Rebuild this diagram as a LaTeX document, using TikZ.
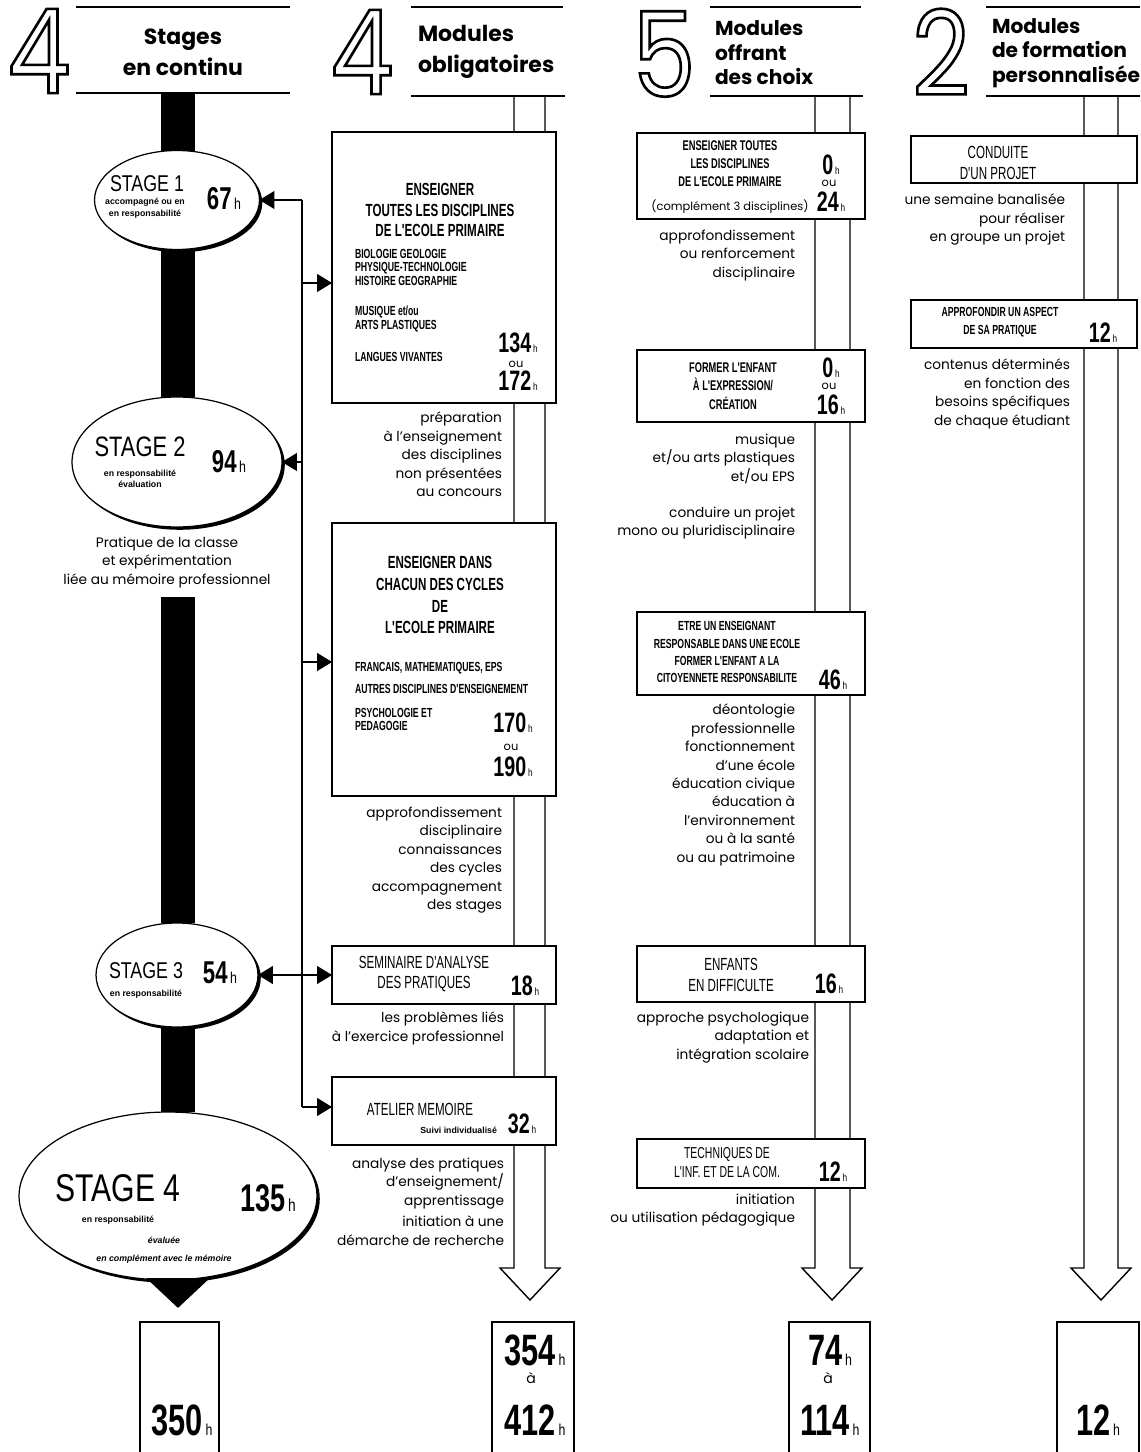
\documentclass[tikz,border=0pt]{standalone}
\usepackage{fontspec}
\setmainfont{Poppins}
\newfontfamily\digitfont[FakeStretch=0.85]{Poppins}
\newfontfamily\stagefont[FakeStretch=0.78]{Liberation Sans}
\newfontfamily\capfont[FakeStretch=0.66]{Liberation Sans}
\newfontfamily\numfont[FakeStretch=0.7]{Liberation Sans}
\newfontfamily\tinyfont{Liberation Sans}
\usetikzlibrary{shapes.geometric,arrows.meta}
\newcommand{\hh}[1][6]{{\stagefont\mdseries\fontsize{#1}{#1}\selectfont\,h}}
\newcommand{\outlined}[1]{\special{pdf:literal direct 1 Tr 1.5 w}#1\special{pdf:literal direct 0 Tr}}
\begin{document}
\begin{tikzpicture}[x=0.02cm,y=-0.02cm,
    every node/.style={inner sep=0pt,outer sep=0pt},
    digitnum/.style={font=\digitfont\fontsize{67}{67}\selectfont},
    headline/.style={line width=1pt},
    headtext/.style={font=\bfseries\fontsize{12.5}{17.6}\selectfont},
    headsmall/.style={font=\bfseries\fontsize{11.5}{13.9}\selectfont,align=left,anchor=west},
    colarrow/.style={line width=0.8pt,line join=miter},
    stagebar/.style={line width=0.68cm},
    stagering/.style={ellipse,draw,fill=white,line width=0.7pt,
      preaction={fill=black,transform canvas={xshift=1.6pt,yshift=-1.6pt}}},
    stagename/.style={font=\stagefont\fontsize{13}{13}\selectfont},
    stagenote/.style={font=\tinyfont\bfseries\fontsize{5}{6.5}\selectfont,align=center},
    hours/.style={font=\numfont\bfseries\fontsize{16}{16}\selectfont},
    orword/.style={font=\fontsize{6.5}{6.5}\selectfont},
    modbox/.style={draw,fill=white,line width=0.8pt},
    modtitle/.style={font=\capfont\fontsize{10}{11.5}\selectfont,align=center},
    modlist/.style={font=\capfont\bfseries\fontsize{7.5}{7.7}\selectfont,align=left,anchor=north west},
    note/.style={font=\fontsize{7.8}{10.5}\selectfont,align=right,anchor=north east},
    link/.style={line width=0.7pt,-{Triangle[length=0.3cm,width=0.36cm]}},
  ]
    \useasboundingbox (0,0) rectangle (1140,1452);%

    % headers
    \node[digitnum] (n1) at (39,51) {\outlined{4}};%
    \node[digitnum] (n2) at (362,52) {\outlined{4}};%
    \node[digitnum] (n3) at (664,54) {\outlined{5}};%
    \node[digitnum] (n4) at (941,52) {\outlined{2}};%
    \draw[headline] (76,7) -- (290,7);%
    \draw[headline] (76,93) -- (290,93);%
    \draw[headline] (411,7) -- (563,7);%
    \draw[headline] (411,96) -- (565,96);%
    \draw[headline] (710,7) -- (861,7);%
    \draw[headline] (710,96) -- (863,96);%
    \draw[headline] (986,7) -- (1140,7);%
    \draw[headline] (986,96) -- (1140,96);%
    \node[headtext,align=center] (h1) at (183,52) {Stages\\en continu};%
    \node[headtext,align=left,anchor=west] (h2) at (418,52) {Modules\\obligatoires};%
    \node[headsmall] (h3) at (715,53) {Modules\\offrant\\des choix};%
    \node[headsmall] (h4) at (992,53) {Modules\\de formation\\personnalisée};%

    % column arrows
    \draw[colarrow] (514,96) -- (514,1268) -- (500,1268) -- (530,1300) -- (560,1268) -- (545,1268) -- (545,96);%
    \draw[colarrow] (815,96) -- (815,1268) -- (802,1268) -- (832,1300) -- (862,1268) -- (850,1268) -- (850,96);%
    \draw[colarrow] (1084,96) -- (1084,1268) -- (1071,1268) -- (1101,1300) -- (1131,1268) -- (1118,1268) -- (1118,96);%

    % stages
    \node[stagering,minimum width=3.3cm,minimum height=1.98cm] (s1) at (177,200) {};%
    \node[stagering,minimum width=4.2cm,minimum height=2.6cm] (s2) at (177,462) {};%
    \node[stagering,minimum width=3.24cm,minimum height=2.08cm] (s3) at (177,975) {};%
    \node[stagering,minimum width=5.96cm,minimum height=3.36cm] (s4) at (168,1196) {};%
    \coordinate (bartop) at (178,93);%
    \coordinate (barmid) at (178,597);%
    \coordinate (bartip) at (178,1308);%
    \draw[stagebar] (bartop) -- (bartop |- s1.north);%
    \draw[stagebar] (s1.south -| bartop) -- (bartop |- s2.north);%
    \draw[stagebar] (barmid) -- (barmid |- s3.north);%
    \draw[stagebar] (s3.south -| bartop) -- (bartop |- s4.north);%
    \draw[stagebar,-{Triangle[length=0.6cm,width=1.24cm]}] (s4.south -| bartop) -- (bartip);%

    \node[stagename] (s1n) at (147,184) {STAGE 1};%
    \node[stagenote] (s1t) at (145,208) {accompagné ou en\\en responsabilité};%
    \node[hours,font=\numfont\bfseries\fontsize{18}{18}\selectfont] (s1h) at (224,199) {67\hh[9]};%
    \node[stagename,font=\stagefont\fontsize{16}{16}\selectfont] (s2n) at (140,447) {STAGE 2};%
    \node[stagenote] (s2t) at (140,479) {en responsabilité\\évaluation};%
    \node[hours,font=\numfont\bfseries\fontsize{18}{18}\selectfont] (s2h) at (229,462) {94\hh[9]};%
    \node[note,align=center,anchor=north] (s2x) at (167,537) {Pratique de la classe\\et expérimentation\\liée au mémoire professionnel};%
    \node[stagename] (s3n) at (146,971) {STAGE 3};%
    \node[stagenote] (s3t) at (146,994) {en responsabilité};%
    \node[hours,font=\numfont\bfseries\fontsize{18}{18}\selectfont] (s3h) at (220,973) {54\hh[9]};%
    \node[stagename,font=\stagefont\fontsize{22}{22}\selectfont] (s4n) at (118,1188) {STAGE 4};%
    \node[hours,font=\numfont\bfseries\fontsize{22}{22}\selectfont] (s4h) at (268,1198) {135\hh[10]};%
    \node[stagenote] (s4t) at (118,1220) {en responsabilité};%
    \node[stagenote,font=\tinyfont\bfseries\itshape\fontsize{5}{10}\selectfont] (s4u) at (164,1250) {évaluée\\en complément avec le mémoire};%

    % compulsory modules
    \node[modbox,minimum width=4.48cm,minimum height=5.42cm] (b1) at (444,267.5) {};%
    \node[modtitle,font=\capfont\bfseries\fontsize{10}{11.5}\selectfont] (b1t) at (440,210) {ENSEIGNER\\TOUTES LES DISCIPLINES\\DE L'ECOLE PRIMAIRE};%
    \node[modlist] (b1a) at (355,249) {BIOLOGIE GEOLOGIE\\PHYSIQUE-TECHNOLOGIE\\HISTOIRE GEOGRAPHIE};%
    \node[modlist] (b1b) at (355,306) {MUSIQUE et/ou\\ARTS PLASTIQUES};%
    \node[modlist] (b1c) at (355,352) {LANGUES VIVANTES};%
    \node[hours] (b1h) at (518,343) {134\hh};%
    \node[orword] (b1o) at (516,364) {ou};%
    \node[hours] (b1k) at (518,381) {172\hh};%
    \node[note] (b1x) at (502,412) {préparation\\à l'enseignement\\des disciplines\\non présentées\\au concours};%

    \node[modbox,minimum width=4.48cm,minimum height=5.46cm] (b2) at (444,659.5) {};%
    \node[modtitle,font=\capfont\bfseries\fontsize{10}{12.5}\selectfont] (b2t) at (440,595) {ENSEIGNER DANS\\CHACUN DES CYCLES\\DE\\L'ECOLE PRIMAIRE};%
    \node[modlist] (b2a) at (355,662) {FRANCAIS, MATHEMATIQUES, EPS};%
    \node[modlist] (b2b) at (355,684) {AUTRES DISCIPLINES D'ENSEIGNEMENT};%
    \node[modlist] (b2c) at (355,708) {PSYCHOLOGIE ET\\PEDAGOGIE};%
    \node[hours] (b2h) at (513,723) {170\hh};%
    \node[orword] (b2o) at (511,747) {ou};%
    \node[hours] (b2k) at (513,767) {190\hh};%
    \node[note] (b2x) at (502,807) {approfondissement\\disciplinaire\\connaissances\\des cycles\\accompagnement\\des stages};%

    \node[modbox,minimum width=4.48cm,minimum height=1.16cm] (sem) at (444,975) {};%
    \node[modtitle] (semt) at (424,974) {SEMINAIRE D'ANALYSE\\DES PRATIQUES};%
    \node[hours] (semh) at (525,986) {18\hh};%
    \node[note] (semx) at (504,1012) {les problèmes liés\\à l'exercice professionnel};%

    \node[modbox,minimum width=4.48cm,minimum height=1.36cm] (atel) at (444,1111) {};%
    \node[modtitle] (atelt) at (420,1109) {ATELIER MEMOIRE};%
    \node[stagenote,anchor=east] (atels) at (497,1130) {Suivi individualisé};%
    \node[hours] (atelh) at (522,1124) {32\hh};%
    \node[note] (atelx) at (504,1158) {analyse des pratiques\\d'enseignement/\\apprentissage};%
    \node[note] (ately) at (504,1216) {initiation à une\\démarche de recherche};%

    % bus
    \coordinate (j1) at (302,200);%
    \coordinate (j2) at (302,283);%
    \coordinate (j3) at (302,462);%
    \coordinate (j4) at (302,662);%
    \coordinate (j5) at (302,1107);%
    \draw[line width=0.7pt] (j1) -- (j5);%
    \draw[link] (j1) -- (s1.east);%
    \draw[link] (j2) -- (j2 -| b1.west);%
    \draw[link] (j3) -- (s2.east);%
    \draw[link] (j4) -- (j4 -| b2.west);%
    \draw[link,{Triangle[length=0.3cm,width=0.36cm]}-{Triangle[length=0.3cm,width=0.36cm]}] (s3.east) -- (sem.west);%
    \draw[link] (j5) -- (j5 -| atel.west);%

    % modules with choices
    \node[modbox,minimum width=4.56cm,minimum height=1.72cm] (c1) at (751,176) {};%
    \node[modtitle,font=\capfont\bfseries\fontsize{8}{10.2}\selectfont] (c1t) at (730,164) {ENSEIGNER TOUTES\\LES DISCIPLINES\\DE L'ECOLE PRIMAIRE};%
    \node[font=\fontsize{6.5}{6.5}\selectfont] (c1s) at (730,207) {(complément 3 disciplines)};%
    \node[hours] (c1h) at (831,165) {0\hh};%
    \node[orword] (c1o) at (829,183) {ou};%
    \node[hours] (c1k) at (831,202) {24\hh};%
    \node[note] (c1x) at (795,230) {approfondissement\\ou renforcement\\disciplinaire};%

    \node[modbox,minimum width=4.56cm,minimum height=1.44cm] (c2) at (751,386) {};%
    \node[modtitle,font=\capfont\bfseries\fontsize{8}{10.5}\selectfont] (c2t) at (733,386) {FORMER L'ENFANT\\À L'EXPRESSION/\\CRÉATION};%
    \node[hours] (c2h) at (831,368) {0\hh};%
    \node[orword] (c2o) at (829,386) {ou};%
    \node[hours] (c2k) at (831,405) {16\hh};%
    \node[note] (c2x) at (795,434) {musique\\et/ou arts plastiques\\et/ou EPS};%
    \node[note] (c2y) at (795,507) {conduire un projet\\mono ou pluridisciplinaire};%

    \node[modbox,minimum width=4.56cm,minimum height=1.66cm] (c3) at (751,653.5) {};%
    \node[modtitle,font=\capfont\bfseries\fontsize{7.5}{9.7}\selectfont] (c3t) at (727,652) {ETRE UN ENSEIGNANT\\RESPONSABLE DANS UNE ECOLE\\FORMER L'ENFANT A LA\\CITOYENNETE RESPONSABILITE};%
    \node[hours] (c3h) at (833,680) {46\hh};%
    \node[note] (c3x) at (795,704) {déontologie\\professionnelle\\fonctionnement\\d'une école\\éducation civique\\éducation à\\l'environnement\\ou à la santé\\ou au patrimoine};%

    \node[modbox,minimum width=4.56cm,minimum height=1.12cm] (c4) at (751,974) {};%
    \node[modtitle] (c4t) at (731,975) {ENFANTS\\EN DIFFICULTE};%
    \node[hours] (c4h) at (829,984) {16\hh};%
    \node[note] (c4x) at (809,1012) {approche psychologique\\adaptation et\\intégration scolaire};%

    \node[modbox,minimum width=4.56cm,minimum height=0.98cm] (c5) at (751,1163.5) {};%
    \node[modtitle,font=\capfont\fontsize{9}{10.8}\selectfont] (c5t) at (727,1163) {TECHNIQUES DE\\L'INF. ET DE LA COM.};%
    \node[hours] (c5h) at (833,1172) {12\hh};%
    \node[note] (c5x) at (795,1194) {initiation\\ou utilisation pédagogique};%

    % personalised modules
    \node[modbox,minimum width=4.52cm,minimum height=0.94cm] (d1) at (1024,159.5) {};%
    \node[modtitle] (d1t) at (998,163) {CONDUITE\\D'UN PROJET};%
    \node[note] (d1x) at (1065,194) {une semaine banalisée\\pour réaliser\\en groupe un projet};%

    \node[modbox,minimum width=4.52cm,minimum height=0.96cm] (d2) at (1024,324) {};%
    \node[modtitle,font=\capfont\bfseries\fontsize{7.5}{10.5}\selectfont] (d2t) at (1000,322) {APPROFONDIR UN ASPECT\\DE SA PRATIQUE};%
    \node[hours] (d2h) at (1103,333) {12\hh};%
    \node[note] (d2x) at (1070,359) {contenus déterminés\\en fonction des\\besoins spécifiques\\de chaque étudiant};%

    % totals
    \node[draw,line width=0.8pt,minimum width=1.58cm,minimum height=2.8cm,anchor=north] (t1) at (179.5,1322) {};%
    \node[draw,line width=0.8pt,minimum width=1.64cm,minimum height=2.8cm,anchor=north] (t2) at (533,1322) {};%
    \node[draw,line width=0.8pt,minimum width=1.62cm,minimum height=2.8cm,anchor=north] (t3) at (829.5,1322) {};%
    \node[draw,line width=0.8pt,minimum width=1.64cm,minimum height=2.8cm,anchor=north] (t4) at (1098,1322) {};%
    \draw[line width=1.4pt] (t1.north west) -- (t1.north east);%
    \draw[line width=1.4pt] (t2.north west) -- (t2.north east);%
    \draw[line width=1.4pt] (t3.north west) -- (t3.north east);%
    \draw[line width=1.4pt] (t4.north west) -- (t4.north east);%
    \node[hours,font=\numfont\bfseries\fontsize{25}{25}\selectfont] (t1h) at (182,1420) {350\hh[9]};%
    \node[hours,font=\numfont\bfseries\fontsize{25}{25}\selectfont] (t2h) at (535,1350) {354\hh[9]};%
    \node[orword,font=\fontsize{8}{8}\selectfont] (t2o) at (531,1378) {à};%
    \node[hours,font=\numfont\bfseries\fontsize{25}{25}\selectfont] (t2k) at (535,1420) {412\hh[9]};%
    \node[hours,font=\numfont\bfseries\fontsize{25}{25}\selectfont] (t3h) at (830,1350) {74\hh[9]};%
    \node[orword,font=\fontsize{8}{8}\selectfont] (t3o) at (828,1378) {à};%
    \node[hours,font=\numfont\bfseries\fontsize{25}{25}\selectfont] (t3k) at (830,1420) {114\hh[9]};%
    \node[hours,font=\numfont\bfseries\fontsize{25}{25}\selectfont] (t4h) at (1098,1420) {12\hh[9]};%
\end{tikzpicture}
\end{document}
